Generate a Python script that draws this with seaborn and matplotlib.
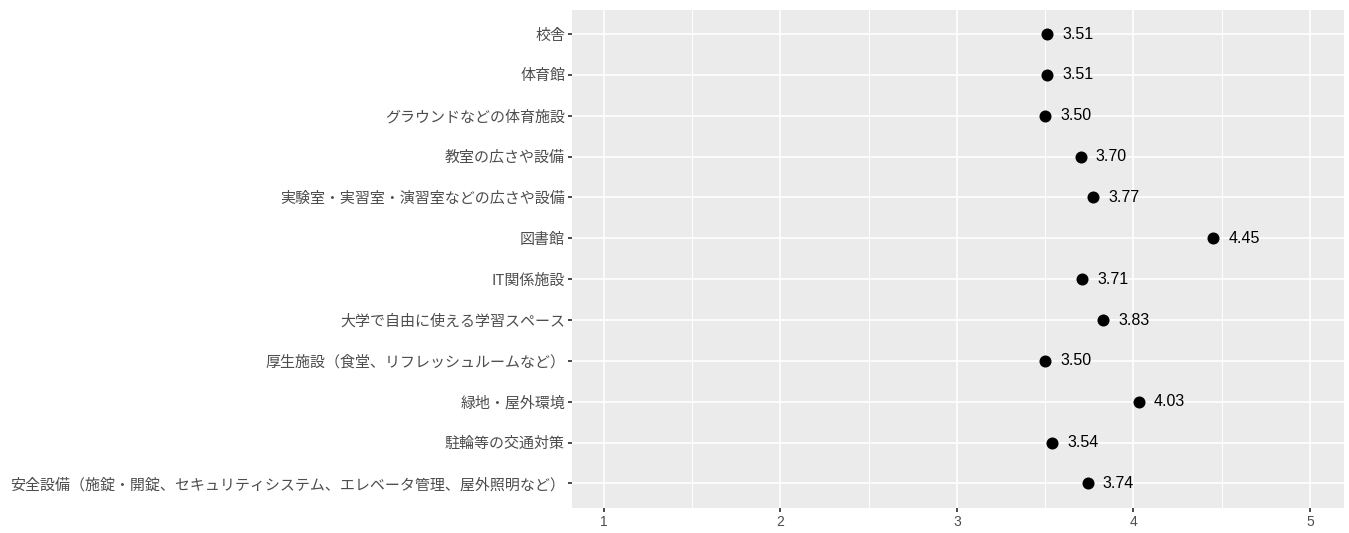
import matplotlib
matplotlib.use("Agg")
import matplotlib.pyplot as plt
import seaborn as sns
import pandas as pd

items = [
    "校舎",
    "体育館",
    "グラウンドなどの体育施設",
    "教室の広さや設備",
    "実験室・実習室・演習室などの広さや設備",
    "図書館",
    "IT関係施設",
    "大学で自由に使える学習スペース",
    "厚生施設（食堂、リフレッシュルームなど）",
    "緑地・屋外環境",
    "駐輪等の交通対策",
    "安全設備（施錠・開錠、セキュリティシステム、エレベータ管理、屋外照明など）",
]
scores = [3.51, 3.51, 3.50, 3.70, 3.77, 4.45, 3.71, 3.83, 3.50, 4.03, 3.54, 3.74]
x_ticks = [1, 2, 3, 4, 5]

df = pd.DataFrame({"item": items, "score": scores})

sns.set_theme(style="darkgrid", rc={"axes.facecolor": "#EBEBEB", "grid.color": "white"})
plt.rcParams["font.family"] = ["Noto Sans CJK JP", "DejaVu Sans"]

fig, ax = plt.subplots(figsize=(13.49, 5.33), dpi=100)
fig.subplots_adjust(left=0.424, right=0.996, top=0.982, bottom=0.047)

sns.scatterplot(data=df, x="score", y="item", color="black", s=75,
                edgecolor="black", linewidth=0, ax=ax, zorder=3)

for i, v in enumerate(scores):
    ax.annotate(f"{v:.2f}", (v, i), xytext=(11, 0), textcoords="offset points",
                ha="left", va="center", fontsize=11.5, color="black",
                family=["Liberation Sans", "DejaVu Sans"])

ax.set_xlim(0.82, 5.19)
ax.set_ylim(len(items) - 0.4, -0.6)
ax.set_xticks(x_ticks)
ax.set_xticks([1.5, 2.5, 3.5, 4.5], minor=True)
ax.grid(which="major", color="white", linewidth=1.2)
ax.grid(which="minor", axis="x", color="white", linewidth=0.7)
ax.set_xticklabels([str(t) for t in x_ticks],
                   family=["Liberation Sans", "DejaVu Sans"], fontsize=10)
ax.tick_params(axis="both", which="major", length=3, color="#333333",
               labelcolor="#4D4D4D", bottom=True, left=True, pad=2)
ax.tick_params(axis="y", labelsize=10.8)
ax.tick_params(axis="x", which="minor", length=0)
ax.set_xlabel("")
ax.set_ylabel("")
for s in ax.spines.values():
    s.set_visible(False)

fig.savefig("out.png", dpi=100, facecolor="white")
